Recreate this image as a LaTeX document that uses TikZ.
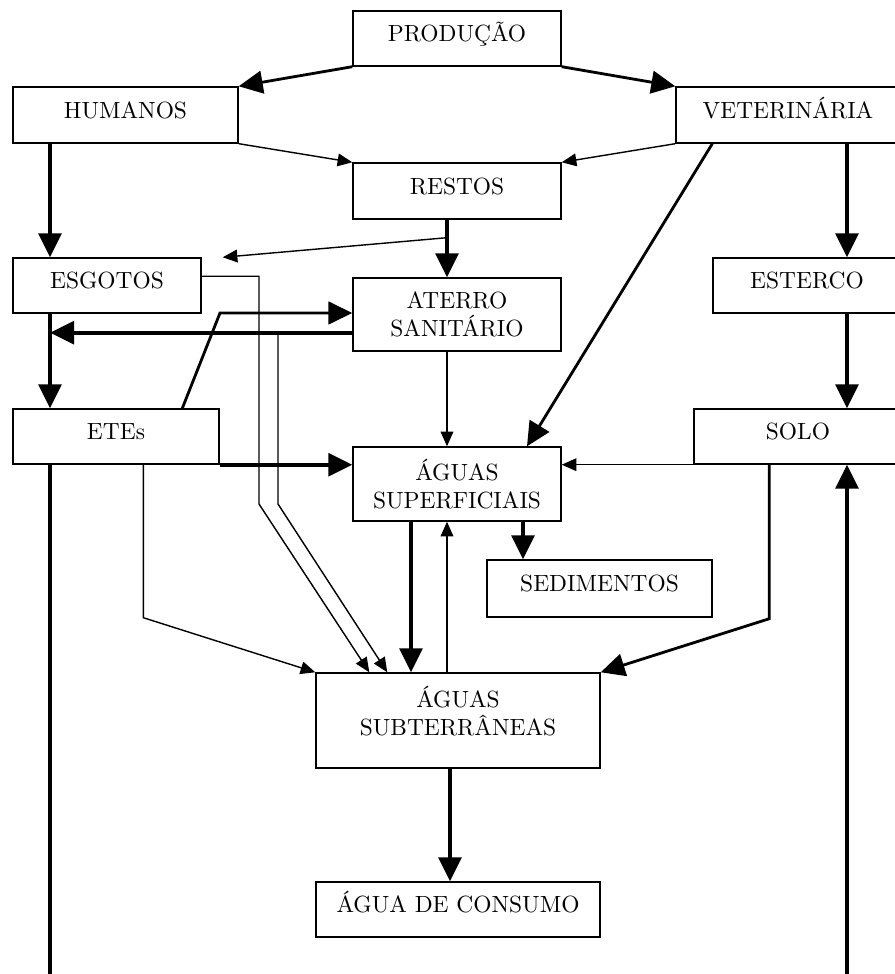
\documentclass[tikz,border=0pt]{standalone}
\usepackage{fontspec}
\usepackage{tikz}
\usetikzlibrary{arrows.meta}
\usetikzlibrary{calc}
\tikzset{
    box/.style 2 args = {rectangle, draw=black, line width=0.6pt, align=center, inner sep=0pt,
        minimum width=#1*0.15mm, minimum height=#2*0.15mm},
    one_line/.style = {text height=1.6ex, text depth=1ex},
    thick_arrow/.style = {-{Triangle[length=3.6mm, width=3.4mm]}, line width=1.7pt},
    mid_arrow/.style = {-{Triangle[length=3.6mm, width=3.4mm]}, line width=1.2pt},
    thin_arrow/.style = {-{Triangle[length=2.2mm, width=1.9mm]}, line width=0.6pt},
    thick_line/.style = {line width=1.7pt}
}

\begin{document}
\begin{tikzpicture}[x=0.015cm, y=-0.015cm]
    \useasboundingbox (0,0) rectangle (895,974);
    % boxes
    \node [box={208}{55}, one_line] (prod) at (457,38.5) {PRODUÇÃO};
    \node [box={225}{56}, one_line] (hum) at (125.5,115) {HUMANOS};
    \node [box={224}{56}, one_line] (vet) at (788,115) {VETERINÁRIA};
    \node [box={208}{56}, one_line] (restos) at (457,191) {RESTOS};
    \node [box={188}{55}, one_line] (esg) at (107,285.5) {ESGOTOS};
    \node [box={208}{73}] (ater) at (457,314.5) {ATERRO\\SANITÁRIO};
    \node [box={188}{55}, one_line] (est) at (807,285.5) {ESTERCO};
    \node [box={206}{55}, one_line] (etes) at (116,436.5) {ETEs};
    \node [box={208}{55}, one_line] (solo) at (798,436.5) {SOLO};
    \node [box={208}{74}] (sup) at (457,484) {ÁGUAS\\SUPERFICIAIS};
    \node [box={225}{57}, one_line] (sed) at (599.5,588.5) {SEDIMENTOS};
    \node [box={284}{95}, text depth=8pt] (sub) at (458,720.5) {ÁGUAS\\SUBTERRÂNEAS};
    \node [box={284}{55}, one_line] (cons) at (458,909.5) {ÁGUA DE CONSUMO};

    % columns and bends
    \coordinate (xL) at (50,0);
    \coordinate (xR) at (847,0);
    \coordinate (xM) at (447,0);
    \coordinate (xS) at (411,0);
    \coordinate (xD) at (523,0);
    \coordinate (xC) at (450,0);
    \coordinate (botL) at (50,974);
    \coordinate (botR) at (847,974);
    \coordinate (aterL) at ($(ater.south west)+(0,-19)$);
    \coordinate (eteBend) at (220,313);
    \coordinate (esgBend) at (259,504);
    \coordinate (aterBend) at (278,504);

    % connectors
    \draw [mid_arrow] (prod.south west) -- (hum.north east);
    \draw [mid_arrow] (prod.south east) -- (vet.north west);
    \draw [thin_arrow] (hum.south east) -- (restos.north west);
    \draw [thin_arrow] (vet.south west) -- (restos.north east);
    \draw [thick_arrow] (hum.south -| xL) -- (esg.north -| xL);
    \draw [thick_arrow] (vet.south -| xR) -- (est.north -| xR);
    \draw [mid_arrow] ($(vet.south west)+(37,0)$) -- ($(sup.north)+(70,0)$);
    \draw [thick_arrow] (restos.south -| xM) -- (ater.north -| xM);
    \draw [thin_arrow] ($(restos.south -| xM)+(0,18)$) -- ($(esg.north east)+(21,0)$);
    \draw [thin_arrow] ($(esg.north east)+(0,19)$) -| (esgBend) -- ($(sub.north west)+(54,0)$);
    \draw [thin_arrow] (aterL -| aterBend) -- (aterBend) -- ($(sub.north west)+(72,0)$);
    \draw [thick_arrow] (aterL) -- (aterL -| xL);
    \draw [thick_arrow] (esg.south -| xL) -- (etes.north -| xL);
    \draw [mid_arrow] ($(etes.north west)+(170,0)$) -- (eteBend) -- (eteBend -| ater.west);
    \draw [thick_arrow] (etes.south east) -- (etes.south east -| sup.west);
    \draw [thin_arrow] ($(etes.south west)+(131,0)$) -- ++(0,153) -- (sub.north west);
    \draw [thin_arrow] (ater.south -| xM) -- (sup.north -| xM);
    \draw [thin_arrow] (solo.south west) -- (solo.south west -| sup.east);
    \draw [thick_arrow] (sup.south -| xS) -- (sub.north -| xS);
    \draw [thin_arrow] (sub.north -| xM) -- (sup.south -| xM);
    \draw [thick_arrow] (sup.south -| xD) -- (sed.north -| xD);
    \draw [thick_arrow] (est.south -| xR) -- (solo.north -| xR);
    \draw [mid_arrow] ($(solo.south west)+(76,0)$) -- ++(0,154) -- (sub.north east);
    \draw [thick_arrow] (sub.south -| xC) -- (cons.north -| xC);
    \draw [thick_line] (etes.south -| xL) -- (botL);
    \draw [thick_arrow] (botR) -- (solo.south -| xR);
\end{tikzpicture}
\end{document}
